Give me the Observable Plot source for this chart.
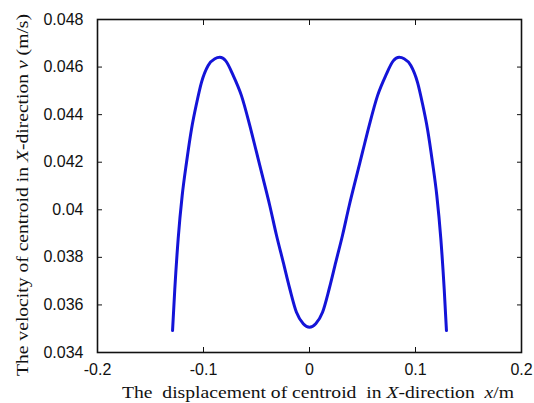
<!DOCTYPE html>
<html>
<head>
<meta charset="utf-8">
<script src="https://cdn.jsdelivr.net/npm/d3@7"></script>
<script src="https://cdn.jsdelivr.net/npm/@observablehq/plot@0.6"></script>
<style>
  html, body { margin: 0; padding: 0; background: #fff; }
  #chart { width: 534px; height: 403px; }
</style>
</head>
<body>
<div id="chart"></div>
<script>
// Displacement of centroid in X-direction (m)
const displacement = [
  -0.1292, -0.1271, -0.1239, -0.1201, -0.1160, -0.1113, -0.1066, -0.1019, -0.0956, -0.0893, -0.0846,
  -0.0790, -0.0720, -0.0642, -0.0563, -0.0500, -0.0437, -0.0375, -0.0311, -0.0248, -0.0186, -0.0123, -0.0059, 0,
  0.0059, 0.0123, 0.0186, 0.0248, 0.0311, 0.0375, 0.0437, 0.0500, 0.0563, 0.0642, 0.0720, 0.0790,
  0.0846, 0.0893, 0.0956, 0.1019, 0.1066, 0.1113, 0.1160, 0.1201, 0.1239, 0.1271, 0.1292
];
// Velocity of centroid in X-direction (m/s)
const velocity = [
  0.03492, 0.03665, 0.03878, 0.04060, 0.04200, 0.04340, 0.04446, 0.04536, 0.04607, 0.04635, 0.04641,
  0.04626, 0.04565, 0.04480, 0.04354, 0.04242, 0.04130, 0.04018, 0.03892, 0.03780, 0.03668, 0.03569, 0.03521, 0.03506,
  0.03521, 0.03569, 0.03668, 0.03780, 0.03892, 0.04018, 0.04130, 0.04242, 0.04354, 0.04480, 0.04565, 0.04626,
  0.04641, 0.04635, 0.04607, 0.04536, 0.04446, 0.04340, 0.04200, 0.04060, 0.03878, 0.03665, 0.03492
];
const xTicks = [-0.2, -0.1, 0, 0.1, 0.2];
const xTickLabels = ["-0.2", "-0.1", "0", "0.1", "0.2"];
const yTicks = [0.034, 0.036, 0.038, 0.040, 0.042, 0.044, 0.046, 0.048];
const yTickLabels = ["0.034", "0.036", "0.038", "0.04", "0.042", "0.044", "0.046", "0.048"];

const data = displacement.map((x, i) => ({x, v: velocity[i]}));

const W = 534, H = 403;
const fontTick = "'Liberation Sans', Arial, sans-serif";

const plot = Plot.plot({
  width: W,
  height: H,
  marginLeft: 97,
  marginRight: 13,
  marginTop: 19,
  marginBottom: 51,
  style: {fontFamily: fontTick, fontSize: "16px", color: "#111", background: "#fff"},
  x: {domain: [-0.2, 0.2]},
  y: {domain: [0.034, 0.048]},
  marks: [
    Plot.axisX({anchor: "bottom", ticks: xTicks, tickSize: -5, tickPadding: 16,
      tickFormat: (d, i) => xTickLabels[i], label: null, fontSize: 16}),
    Plot.axisX({anchor: "top", ticks: xTicks, tickSize: -5, tickFormat: () => "", label: null}),
    Plot.axisY({anchor: "left", ticks: yTicks, tickSize: -5, tickPadding: 19,
      tickFormat: (d, i) => yTickLabels[i], label: null, fontSize: 16}),
    Plot.axisY({anchor: "right", ticks: yTicks, tickSize: -5, tickFormat: () => "", label: null}),
    Plot.line(data, {x: "x", y: "v", stroke: "#1414d8", strokeWidth: 3, curve: "monotone-x"}),
    Plot.frame({stroke: "#111", strokeWidth: 1.6})
  ]
});

document.getElementById("chart").appendChild(plot);

// Axis titles with italic parts (MATLAB-style serif)
const svg = d3.select(plot);
const serif = "'Liberation Serif', 'Times New Roman', serif";

const xt = svg.append("text")
  .attr("x", 318).attr("y", 398)
  .attr("text-anchor", "middle")
  .attr("textLength", 392).attr("lengthAdjust", "spacingAndGlyphs")
  .attr("font-family", serif).attr("font-size", 17).attr("fill", "#111")
  .style("white-space", "pre");
xt.append("tspan").text("The  displacement of centroid  in ");
xt.append("tspan").attr("font-style", "italic").text("X");
xt.append("tspan").text("-direction  ");
xt.append("tspan").attr("font-style", "italic").text("x");
xt.append("tspan").text("/m");

const yt = svg.append("text")
  .attr("transform", "translate(28,195) rotate(-90)")
  .attr("text-anchor", "middle")
  .attr("textLength", 362).attr("lengthAdjust", "spacingAndGlyphs")
  .attr("font-family", serif).attr("font-size", 17).attr("fill", "#111");
yt.append("tspan").text("The velocity of centroid in ");
yt.append("tspan").attr("font-style", "italic").text("X");
yt.append("tspan").text("-direction ");
yt.append("tspan").attr("font-style", "italic").text("v");
yt.append("tspan").text(" (m/s)");
</script>
</body>
</html>
